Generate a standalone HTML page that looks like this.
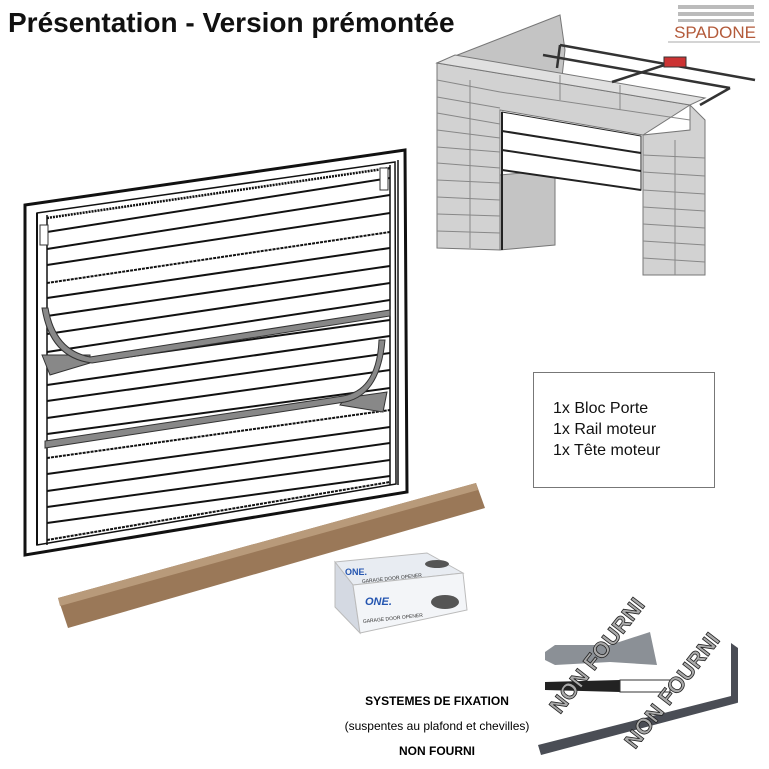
<!DOCTYPE html>
<html><head><meta charset="utf-8"><style>
html,body{margin:0;padding:0;background:#fff;}
body{width:769px;height:769px;position:relative;overflow:hidden;font-family:"Liberation Sans",sans-serif;}
.t{position:absolute;white-space:nowrap;}
</style></head><body>
<svg width="769" height="769" style="position:absolute;left:0;top:0">
<!-- Door -->
<g stroke="#111" fill="none">
<polygon points="25,205 405,150 407,492 25,555" fill="#fff" stroke-width="3"/>
<polygon points="37,213 395,162 396,484 37,545" stroke-width="1.5"/>
<line x1="47" y1="218" x2="390" y2="168" stroke-width="2.5" stroke-dasharray="2 1"/>
<line x1="37" y1="213" x2="37" y2="545" stroke-width="2"/>
<line x1="47" y1="215" x2="47" y2="545" stroke-width="1.5"/>
<line x1="390" y1="165" x2="390" y2="485" stroke-width="1.5"/>
<line x1="398" y1="160" x2="398" y2="485" stroke-width="1.5"/>
<g stroke-width="2">
<line x1="47" y1="232" x2="390" y2="178"/>
<line x1="47" y1="249" x2="390" y2="195"/>
<line x1="47" y1="265" x2="390" y2="213"/>
<line x1="47" y1="283" x2="390" y2="232" stroke-dasharray="3 1"/>
<line x1="47" y1="298" x2="390" y2="248"/>
<line x1="47" y1="316" x2="390" y2="266"/>
<line x1="47" y1="334" x2="390" y2="283"/>
<line x1="47" y1="352" x2="390" y2="300"/>
<line x1="47" y1="368" x2="390" y2="320"/>
<line x1="47" y1="385" x2="390" y2="336"/>
<line x1="47" y1="401" x2="390" y2="353"/>
<line x1="47" y1="418" x2="390" y2="370"/>
<line x1="47" y1="434" x2="390" y2="388"/>
<line x1="47" y1="458" x2="390" y2="410" stroke-dasharray="3 1"/>
<line x1="47" y1="474" x2="390" y2="427"/>
<line x1="47" y1="491" x2="390" y2="443"/>
<line x1="47" y1="507" x2="390" y2="460"/>
<line x1="47" y1="523" x2="390" y2="476"/>
<line x1="47" y1="540" x2="390" y2="482" stroke-dasharray="3 1"/>
</g>
</g>
<!-- rails -->
<g fill="#888" stroke="#333" stroke-width="1">
<polygon points="42,355 50,375 90,363 90,355"/>
<polygon points="387,392 383,412 340,405 345,398"/>
<path d="M48,308 Q55,350 90,357 L390,310 L390,316 L92,363 Q50,358 42,308 Z"/>
<path d="M385,340 Q380,395 345,402 L45,448 L45,441 L343,396 Q377,390 379,340 Z"/>
</g>
<rect x="40" y="225" width="8" height="20" fill="#fff" stroke="#333"/>
<rect x="380" y="168" width="8" height="22" fill="#fff" stroke="#333"/>
<!-- wood beam -->
<polygon points="58,598 476,483 485,508 68,628" fill="#9a7858"/>
<polygon points="58,598 476,483 478,490 60,606" fill="#b89a7a"/>
<!-- box -->
<polygon points="335,562 427,553 463,573 353,585" fill="#e8ecf2" stroke="#bbb"/>
<polygon points="335,562 353,585 360,633 335,607" fill="#d4d9e2" stroke="#bbb"/>
<polygon points="353,585 463,573 467,610 360,633" fill="#f3f5f8" stroke="#bbb"/>
<text x="345" y="575" font-family="Liberation Sans" font-weight="bold" font-size="9" fill="#2455b0">ONE.</text>
<text x="365" y="605" font-family="Liberation Sans" font-weight="bold" font-style="italic" font-size="11" fill="#2455b0">ONE.</text>
<text x="362" y="583" font-family="Liberation Sans" font-size="5" fill="#333" transform="rotate(-6 362 583)">GARAGE DOOR OPENER</text>
<text x="363" y="623" font-family="Liberation Sans" font-size="5" fill="#333" transform="rotate(-6 363 623)">GARAGE DOOR OPENER</text>
<ellipse cx="445" cy="602" rx="14" ry="7" fill="#555"/>
<ellipse cx="437" cy="564" rx="12" ry="4" fill="#555"/>
<!-- brick wall -->
<g stroke="#777" stroke-width="1" fill="#d2d2d2">
<polygon points="437,63 560,15 565,50 560,95 500,110 437,63" fill="#c4c4c4"/>
<polygon points="500,175 555,170 555,245 500,250" fill="#c4c4c4"/>
<polygon points="437,63 690,105 690,130 643,135 643,275 705,275 705,120 690,105 643,135 500,110 500,250 437,248"/>
<polygon points="437,63 455,55 705,98 690,105" fill="#e0e0e0"/>
</g>
<polygon points="502,112 641,136 641,190 502,170" fill="#fff" stroke="#222" stroke-width="1"/>
<g stroke="#222" stroke-width="2"><line x1="502" y1="131" x2="641" y2="153"/><line x1="502" y1="150" x2="641" y2="171"/><line x1="502" y1="170" x2="641" y2="190"/><line x1="502" y1="112" x2="502" y2="250"/></g>
<g stroke="#888" stroke-width="1">
<line x1="437" y1="80" x2="500" y2="92"/><line x1="437" y1="97" x2="500" y2="108"/><line x1="437" y1="113" x2="500" y2="124"/><line x1="437" y1="130" x2="500" y2="138"/><line x1="437" y1="147" x2="500" y2="152"/><line x1="437" y1="163" x2="500" y2="168"/><line x1="437" y1="180" x2="500" y2="183"/><line x1="437" y1="197" x2="500" y2="200"/><line x1="437" y1="214" x2="500" y2="216"/><line x1="437" y1="231" x2="500" y2="233"/>
<line x1="500" y1="92" x2="690" y2="120"/>
<line x1="643" y1="155" x2="705" y2="158"/><line x1="643" y1="172" x2="705" y2="176"/><line x1="643" y1="190" x2="705" y2="194"/><line x1="643" y1="207" x2="705" y2="211"/><line x1="643" y1="224" x2="705" y2="228"/><line x1="643" y1="241" x2="705" y2="245"/><line x1="643" y1="258" x2="705" y2="262"/>
<line x1="470" y1="80" x2="470" y2="248"/><line x1="560" y1="75" x2="560" y2="100"/><line x1="620" y1="85" x2="620" y2="110"/><line x1="675" y1="140" x2="675" y2="275"/>
</g>
<g stroke="#333" stroke-width="2.5" fill="none">
<line x1="543" y1="55" x2="730" y2="88"/><line x1="560" y1="45" x2="755" y2="80"/>
<line x1="560" y1="45" x2="557" y2="68"/><line x1="612" y1="82" x2="680" y2="60"/><line x1="700" y1="105" x2="730" y2="88"/>
</g>
<rect x="664" y="57" width="22" height="10" fill="#c33" stroke="#333"/>
<!-- logo -->
<rect x="678" y="5" width="76" height="4" fill="#bbb"/>
<rect x="678" y="12" width="76" height="4" fill="#bbb"/>
<rect x="678" y="19" width="76" height="3" fill="#bbb"/>
<text x="715" y="38" text-anchor="middle" font-family="Liberation Sans" font-size="17" fill="#b35a3a">SPADONE</text>
<line x1="668" y1="42" x2="760" y2="42" stroke="#aaa"/>
<!-- info box -->
<rect x="533.5" y="372.5" width="181" height="115" fill="#fff" stroke="#777"/>
<!-- hardware -->
<polygon points="545,652 555,645 610,645 650,632 657,665 610,662 555,665 545,660" fill="#8b9096"/>
<path d="M545,682 L620,680 L620,692 L545,690 Z" fill="#222"/>
<rect x="620" y="680" width="50" height="12" fill="#fff" stroke="#333"/>
<polygon points="538,745 735,695 737,703 541,755" fill="#4a4d55"/>
<polygon points="731,643 738,648 738,703 731,700" fill="#4a4d55"/>
<g font-family="Liberation Sans" font-weight="bold" font-size="22" fill="#aaa" stroke="#222" stroke-width="0.8">
<text x="560" y="715" transform="rotate(-52 560 715)">NON FOURNI</text>
<text x="635" y="750" transform="rotate(-52 635 750)">NON FOURNI</text>
</g>
</svg>
<div class="t" style="left:8px;top:7px;font-size:28px;font-weight:bold;color:#111;">Présentation - Version prémontée</div>
<div class="t" style="left:553px;top:398px;font-size:16px;line-height:21px;color:#111;">1x Bloc Porte<br>1x Rail moteur<br>1x Tête moteur</div>
<div class="t" style="left:330px;top:694px;width:214px;text-align:center;font-size:12px;font-weight:bold;">SYSTEMES DE FIXATION</div>
<div class="t" style="left:320px;top:719px;width:234px;text-align:center;font-size:12px;">(suspentes au plafond et chevilles)</div>
<div class="t" style="left:330px;top:744px;width:214px;text-align:center;font-size:12px;font-weight:bold;">NON FOURNI</div>
</body></html>
